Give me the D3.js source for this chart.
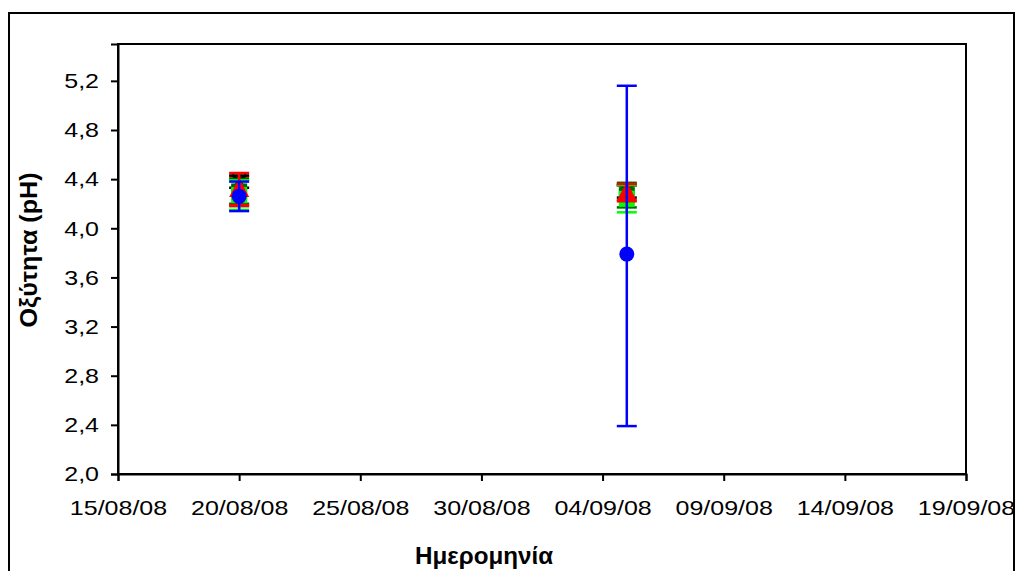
<!DOCTYPE html>
<html>
<head>
<meta charset="utf-8">
<script src="https://cdn.jsdelivr.net/npm/d3@7"></script>
<style>
  body { margin: 0; background: #fff; }
  text { font-family: "Liberation Sans", Arial, sans-serif; }
</style>
</head>
<body>
<div id="chart"></div>
<script>
const width = 1016;
const height = 571;
const margin = { top: 44, right: 50, left: 118, bottom: 97 };

// dates of the two sampling days
const dates = ['2008-08-20', '2008-09-05'];

// x axis ticks, every 5 days
const x_ticks = ['2008-08-15', '2008-08-20', '2008-08-25', '2008-08-30', '2008-09-04', '2008-09-09', '2008-09-14', '2008-09-19'];
const y_ticks = [2.0, 2.4, 2.8, 3.2, 3.6, 4.0, 4.4, 4.8, 5.2];

// series values, +error and -error (pH)
const brown_vals = [4.30, 4.29];
const brown_up = [0.12, 0.06];
const brown_down = [0.12, 0.06];
const black_vals = [4.38, 4.30];
const black_up = [0.05, 0.05];
const black_down = [0.05, 0.05];
const darkgreen_vals = [4.30, 4.27];
const darkgreen_up = [0.10, 0.10];
const darkgreen_down = [0.10, 0.10];
const lime_vals = [4.27, 4.24];
const lime_up = [0.12, 0.11];
const lime_down = [0.12, 0.11];
const red_vals = [4.32, 4.29];
const red_up = [0.13, 0.07];
const red_down = [0.13, 0.07];
const blue_vals = [4.26, 3.79];
const blue_up = [0.12, 1.37];
const blue_down = [0.12, 1.40];

const series = [
    { color: '#993300', vals: brown_vals, up: brown_up, down: brown_down, marker: 'none' },
    { color: '#000000', vals: black_vals, up: black_up, down: black_down, marker: 'x' },
    { color: '#006600', vals: darkgreen_vals, up: darkgreen_up, down: darkgreen_down, marker: 'square' },
    { color: '#00ff00', vals: lime_vals, up: lime_up, down: lime_down, marker: 'square' },
    { color: '#ff0000', vals: red_vals, up: red_up, down: red_down, marker: 'triangle' },
    { color: '#0000ff', vals: blue_vals, up: blue_up, down: blue_down, marker: 'circle' }
];

const parse = d3.timeParse('%Y-%m-%d');
const fmt = d3.timeFormat('%d/%m/%y');
const stretch = 1.19;

const svg = d3.select('#chart')
    .append('svg')
    .attr('width', width)
    .attr('height', height);

svg.append('rect')
    .attr('x', 0).attr('y', 0)
    .attr('width', width).attr('height', height)
    .attr('fill', '#fff');

// outer chart border
svg.append('rect')
    .attr('x', 9).attr('y', 13)
    .attr('width', 1005).attr('height', 580)
    .attr('fill', 'none')
    .attr('stroke', '#000')
    .attr('stroke-width', 2);

const xScale = d3.scaleTime()
    .domain([parse(x_ticks[0]), parse(x_ticks[x_ticks.length - 1])])
    .range([margin.left, width - margin.right]);

const yScale = d3.scaleLinear()
    .domain([2.0, 5.5])
    .range([height - margin.bottom, margin.top]);

// plot area frame
svg.append('rect')
    .attr('x', margin.left)
    .attr('y', margin.top)
    .attr('width', xScale.range()[1] - margin.left)
    .attr('height', yScale(2.0) - margin.top)
    .attr('fill', 'none')
    .attr('stroke', '#000')
    .attr('stroke-width', 2);

const xAxis = d3.axisBottom(xScale)
    .tickValues(x_ticks.map(parse))
    .tickFormat(fmt)
    .tickSize(7)
    .tickPadding(27);

const yAxis = d3.axisLeft(yScale)
    .tickValues(y_ticks)
    .tickFormat((d) => d3.format('.1f')(d).replace('.', ','))
    .tickSize(7)
    .tickPadding(12);

const gx = svg.append('g')
    .attr('transform', `translate(0,${yScale(2.0)})`)
    .call(xAxis);
const gy = svg.append('g')
    .attr('transform', `translate(${margin.left},0)`)
    .call(yAxis);

[gx, gy].forEach((g) => {
    g.select('.domain').attr('stroke', '#000').attr('stroke-width', 2);
    g.selectAll('.tick line').attr('stroke', '#000').attr('stroke-width', 2);
    g.selectAll('.tick text')
        .attr('fill', '#000')
        .style('font-size', '21px')
        .style('font-family', '"Liberation Sans", Arial, sans-serif')
        .each(function () {
            const len = this.getComputedTextLength();
            d3.select(this)
                .attr('textLength', len * stretch)
                .attr('lengthAdjust', 'spacingAndGlyphs');
        });
});
gx.selectAll('.tick text').attr('dy', '0.35em');

// axis titles
svg.append('text')
    .attr('x', 484)
    .attr('y', 564)
    .attr('text-anchor', 'middle')
    .style('font-size', '23px')
    .style('font-weight', 'bold')
    .attr('textLength', 138)
    .attr('lengthAdjust', 'spacingAndGlyphs')
    .text('Ημερομηνία');

svg.append('text')
    .attr('transform', 'translate(37,250) rotate(-90)')
    .attr('text-anchor', 'middle')
    .style('font-size', '23px')
    .style('font-weight', 'bold')
    .attr('textLength', 155)
    .attr('lengthAdjust', 'spacingAndGlyphs')
    .text('Οξύτητα (pH)');

// error bars and markers
const plot = svg.append('g');
const capW = 10;

series.forEach((s) => {
    const pts = dates.map((d, i) => ({ x: xScale(parse(d)), v: s.vals[i], hi: s.vals[i] + s.up[i], lo: s.vals[i] - s.down[i] }));
    const g = plot.append('g');

    g.selectAll('line.bar')
        .data(pts)
        .join('line')
        .attr('x1', (d) => d.x).attr('x2', (d) => d.x)
        .attr('y1', (d) => yScale(d.hi))
        .attr('y2', (d) => yScale(d.lo))
        .attr('stroke', s.color)
        .attr('stroke-width', 2.5);

    pts.forEach((d) => {
        [d.hi, d.lo].forEach((c) => {
            g.append('line')
                .attr('x1', d.x - capW).attr('x2', d.x + capW)
                .attr('y1', yScale(c)).attr('y2', yScale(c))
                .attr('stroke', s.color)
                .attr('stroke-width', 2.5);
        });
    });

    pts.forEach((d) => {
        const cx = d.x;
        const cy = yScale(d.v);
        if (s.marker === 'square') {
            g.append('rect')
                .attr('x', cx - 8).attr('y', cy - 8)
                .attr('width', 16).attr('height', 16)
                .attr('fill', s.color);
        } else if (s.marker === 'triangle') {
            g.append('path')
                .attr('d', `M${cx},${cy - 11} L${cx + 10},${cy + 8} L${cx - 10},${cy + 8} Z`)
                .attr('fill', s.color);
        } else if (s.marker === 'circle') {
            g.append('circle')
                .attr('cx', cx).attr('cy', cy)
                .attr('r', 7.5)
                .attr('fill', s.color);
        } else if (s.marker === 'x') {
            g.append('path')
                .attr('d', `M${cx - 7},${cy - 7} L${cx + 7},${cy + 7} M${cx + 7},${cy - 7} L${cx - 7},${cy + 7}`)
                .attr('stroke', s.color)
                .attr('stroke-width', 3);
        }
    });
});
</script>
</body>
</html>
